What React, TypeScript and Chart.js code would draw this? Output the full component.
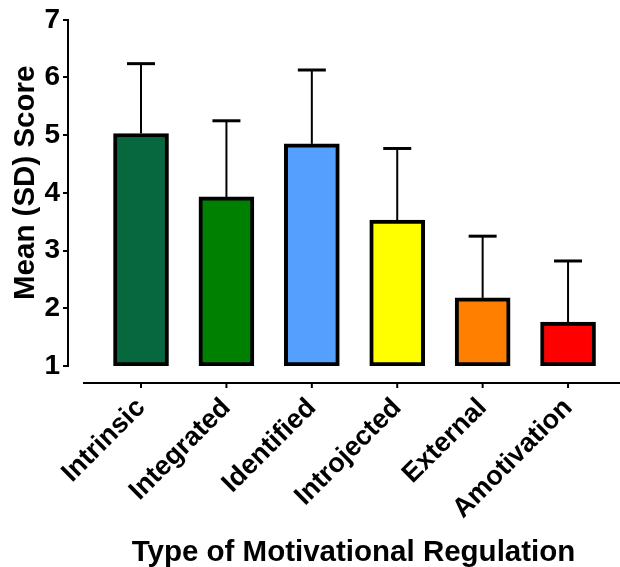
import { useEffect, useRef } from 'react';
import { Chart, registerables } from 'chart.js';

Chart.register(...registerables);

const categories = ['Intrinsic', 'Integrated', 'Identified', 'Introjected', 'External', 'Amotivation'];
const means = [5.03, 3.93, 4.85, 3.53, 2.18, 1.76];
const sds = [1.21, 1.32, 1.28, 1.24, 1.07, 1.06];
const colors = ['#07673F', '#008000', '#559FFF', '#FFFF00', '#FF8000', '#FF0000'];
const yTicks = [1, 2, 3, 4, 5, 6, 7];
const xTitle = 'Type of Motivational Regulation';
const yTitle = 'Mean (SD) Score';
const BASE = 1;

const FONT = '"Liberation Sans", Arial, Helvetica, sans-serif';

const prismPlugin = {
  id: 'prismDecor',
  beforeDatasetsDraw(chart: any) {
    const ctx = chart.ctx;
    const yScale = chart.scales.y;
    const meta = chart.getDatasetMeta(0);
    ctx.save();
    ctx.strokeStyle = '#000';
    meta.data.forEach((bar: any, i: number) => {
      const x = bar.x;
      const yTop = yScale.getPixelForValue(means[i]);
      const yCap = yScale.getPixelForValue(means[i] + sds[i]);
      ctx.lineWidth = 2;
      ctx.beginPath();
      ctx.moveTo(x, yTop);
      ctx.lineTo(x, yCap);
      ctx.stroke();
      ctx.lineWidth = 3;
      ctx.beginPath();
      ctx.moveTo(x - 14, yCap);
      ctx.lineTo(x + 14, yCap);
      ctx.stroke();
    });
    ctx.restore();
  },
  afterDraw(chart: any) {
    const ctx = chart.ctx;
    const area = chart.chartArea;
    const meta = chart.getDatasetMeta(0);
    const y0 = area.bottom + 17;
    const x0 = area.left + 15;
    const x1 = chart.width;
    ctx.save();
    ctx.strokeStyle = '#000';
    ctx.lineWidth = 2;
    ctx.beginPath();
    ctx.moveTo(x0, y0);
    ctx.lineTo(x1, y0);
    ctx.stroke();
    meta.data.forEach((bar: any) => {
      ctx.beginPath();
      ctx.moveTo(bar.x, y0);
      ctx.lineTo(bar.x, y0 + 5);
      ctx.stroke();
    });
    ctx.fillStyle = '#000';
    ctx.font = `bold 29.5px ${FONT}`;
    ctx.textAlign = 'center';
    ctx.textBaseline = 'alphabetic';
    ctx.fillText(xTitle, (x0 + x1) / 2 + 2, chart.height - 6);
    // y axis title
    ctx.translate(34, area.top + 163);
    ctx.rotate(-Math.PI / 2);
    ctx.fillText(yTitle, 0, 0);
    ctx.restore();
  },
};

export default function App() {
  const ref = useRef<HTMLCanvasElement | null>(null);

  useEffect(() => {
    if (!ref.current) return;
    const chart = new Chart(ref.current, {
      type: 'bar',
      data: {
        datasets: [
          {
            data: means.map((m, i) => ({ x: i, y: [BASE, m] })) as any,
            backgroundColor: colors,
            borderColor: '#000',
            borderWidth: 4,
            borderSkipped: false,
            barThickness: 55,
          },
        ],
      },
      options: {
        responsive: false,
        animation: false,
        layout: { padding: { top: 15, right: 9, bottom: 0, left: 0 } },
        plugins: { legend: { display: false }, tooltip: { enabled: false } },
        scales: {
          x: {
            type: 'linear',
            min: -0.855,
            max: 5.503,
            offset: false,
            grid: { display: false },
            border: { display: false },
            afterFit: (s: any) => {
              s.height = 201;
            },
            afterBuildTicks: (s: any) => {
              s.ticks = categories.map((_, i) => ({ value: i }));
            },
            ticks: {
              autoSkip: false,
              minRotation: 45,
              maxRotation: 45,
              padding: 18,
              color: '#000',
              font: { family: FONT, size: 27, weight: 'bold' },
              callback: (v: any) => categories[v] ?? '',
            },
          },
          y: {
            min: 1,
            max: 7,
            afterFit: (s: any) => {
              s.width = 68;
            },
            afterBuildTicks: (s: any) => {
              s.ticks = yTicks.map((v) => ({ value: v }));
            },
            grid: { drawOnChartArea: false, drawTicks: true, tickLength: 5, color: '#000', lineWidth: 2 },
            border: { display: true, color: '#000', width: 2 },
            ticks: { padding: 3, color: '#000', font: { family: FONT, size: 28, weight: 'bold' } },
            title: { display: false },
          },
        },
      },
      plugins: [prismPlugin],
    });
    return () => chart.destroy();
  }, []);

  return (
    <div style={{ position: 'fixed', left: 0, top: 0, width: 620, height: 567, background: '#fff' }}>
      <canvas ref={ref} width={620} height={567} style={{ display: 'block' }} />
    </div>
  );
}
